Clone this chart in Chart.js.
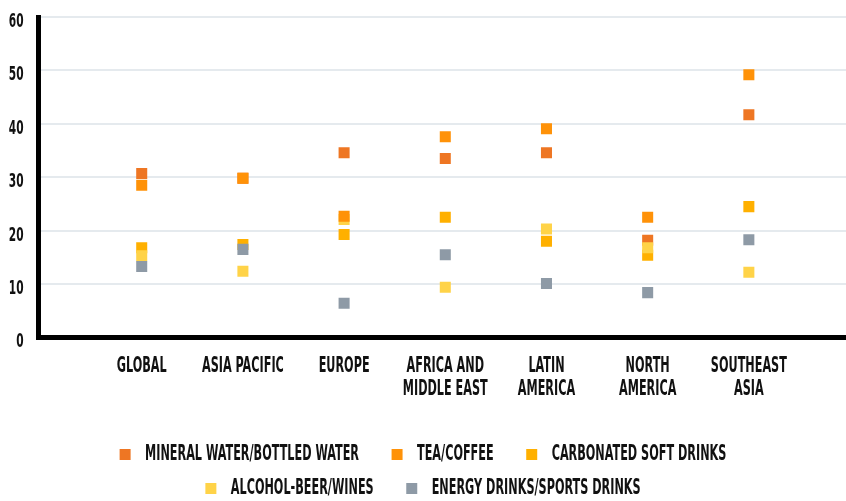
<!DOCTYPE html>
<html>
<head>
<meta charset="utf-8">
<script src="https://cdn.jsdelivr.net/npm/chart.js@4/dist/chart.umd.min.js"></script>
<style>
  html, body { margin: 0; padding: 0; background: #fff; }
  #wrap { width: 846px; height: 501px; }
</style>
</head>
<body>
<div id="wrap"><canvas id="canvas"></canvas></div>
<script>
var regions = [['GLOBAL'], ['ASIA PACIFIC'], ['EUROPE'], ['AFRICA AND', 'MIDDLE EAST'], ['LATIN', 'AMERICA'], ['NORTH', 'AMERICA'], ['SOUTHEAST', 'ASIA']];
var seriesNames = ['MINERAL WATER/BOTTLED WATER', 'TEA/COFFEE', 'CARBONATED SOFT DRINKS', 'ALCOHOL-BEER/WINES', 'ENERGY DRINKS/SPORTS DRINKS'];
var mineralWater = [30.7, 29.8, 34.6, 33.5, 34.6, 18.2, 41.7];
var teaCoffee = [28.5, 29.8, 22.7, 37.6, 39.1, 22.5, 49.2];
var softDrinks = [16.8, 17.4, 19.3, 22.5, 18.0, 15.4, 24.5];
var alcohol = [15.3, 12.4, 22.1, 9.4, 20.3, 16.8, 12.2];
var energyDrinks = [13.3, 16.5, 6.4, 15.5, 10.1, 8.4, 18.3];
var yTicks = [0, 10, 20, 30, 40, 50, 60];

var seriesValues = [mineralWater, teaCoffee, softDrinks, alcohol, energyDrinks];
var seriesColors = ['#ee7623', '#ff9208', '#ffb000', '#ffd348', '#8e9aa6'];
var drawOrder = [3, 1, 4, 2, 0]; // lower = drawn on top
var legendRowEnd = [2, 4];      // last legend item of each row

var FONT = "'Liberation Sans Narrow', 'DejaVu Sans Condensed', sans-serif";
// horizontal squeeze per font size (the original face is very condensed)
var SQUEEZE = { 21: 0.595, 19: 0.62 };

var ctx = document.getElementById('canvas').getContext('2d');
var fillText = ctx.fillText, measureText = ctx.measureText;
function squeezeOf(c) {
    var m = /bold|700/.test(c.font) && c.font.match(/(\d+)px/);
    return m && SQUEEZE[m[1]] || 1;
}
ctx.fillText = function (text, x, y) {
    var k = squeezeOf(this);
    if (k === 1) return fillText.apply(this, arguments);
    this.save();
    this.translate(x, y);
    this.scale(k, 1);
    fillText.call(this, text, 0, 0);
    this.restore();
};
ctx.measureText = function (text) {
    var m = measureText.call(this, text);
    var k = squeezeOf(this);
    if (k === 1) return m;
    return {
        width: m.width * k,
        actualBoundingBoxAscent: m.actualBoundingBoxAscent,
        actualBoundingBoxDescent: m.actualBoundingBoxDescent
    };
};

// force three items on the first legend row
var legendWrap = {
    id: 'legendWrap',
    afterInit: function (chart) {
        var update = chart.legend.update;
        chart.legend.update = function (maxWidth, maxHeight, margins) {
            update.call(this, Math.min(maxWidth, 760), maxHeight, margins);
        };
    }
};

var config = {
    type: 'scatter',
    data: {
        datasets: seriesNames.map(function (name, i) {
            return {
                label: name,
                data: seriesValues[i].map(function (v, j) {
                    return { x: j + 1, y: v };
                }),
                order: drawOrder[i],
                backgroundColor: seriesColors[i],
                borderColor: seriesColors[i],
                borderWidth: 0,
                pointStyle: 'rect',
                pointRadius: 7.8,
                pointHoverRadius: 7.8,
                pointBorderWidth: 0
            };
        })
    },
    options: {
        responsive: true,
        maintainAspectRatio: false,
        animation: false,
        layout: {
            autoPadding: false,
            padding: { top: 17, right: 0, bottom: -8, left: 0 }
        },
        plugins: {
            tooltip: { enabled: false },
            legend: {
                position: 'bottom',
                labels: {
                    boxWidth: 11,
                    boxHeight: 11,
                    padding: 13,
                    color: '#111',
                    font: { family: FONT, size: 21, weight: 'bold' },
                    generateLabels: function (chart) {
                        var items = Chart.defaults.plugins.legend.labels.generateLabels(chart);
                        items.sort(function (a, b) { return a.datasetIndex - b.datasetIndex; });
                        items.forEach(function (item) {
                            item.text = ' ' + item.text + (legendRowEnd.indexOf(item.datasetIndex) < 0 ? '     ' : '');
                        });
                        return items;
                    }
                }
            }
        },
        scales: {
            x: {
                type: 'linear',
                min: -0.02,
                max: 7.96,
                afterBuildTicks: function (scale) {
                    scale.ticks = regions.map(function (r, i) { return { value: i + 1 }; });
                },
                afterFit: function (scale) {
                    scale.height = 93.5;
                    scale.paddingLeft = 0;
                    scale.paddingRight = 0;
                },
                grid: { display: false, drawTicks: false },
                border: { display: true, color: '#000', width: 5 },
                ticks: {
                    padding: 18,
                    maxRotation: 0,
                    autoSkip: false,
                    color: '#111',
                    font: { family: FONT, size: 21, weight: 'bold', lineHeight: 1.08 },
                    callback: function (value) {
                        return regions[value - 1] || '';
                    }
                }
            },
            y: {
                min: yTicks[0],
                max: yTicks[yTicks.length - 1],
                afterFit: function (scale) {
                    scale.width = 38.5;
                    scale.paddingTop = 0;
                    scale.paddingBottom = 0;
                },
                grid: { color: '#e5eaee', lineWidth: 2, drawTicks: false },
                border: { display: true, color: '#000', width: 5 },
                ticks: {
                    stepSize: yTicks[1] - yTicks[0],
                    padding: 15,
                    labelOffset: 5,
                    color: '#111',
                    font: { family: FONT, size: 19, weight: 'bold' }
                }
            }
        }
    },
    plugins: [legendWrap]
};

window.myChart = new Chart(ctx, config);
</script>
</body>
</html>
